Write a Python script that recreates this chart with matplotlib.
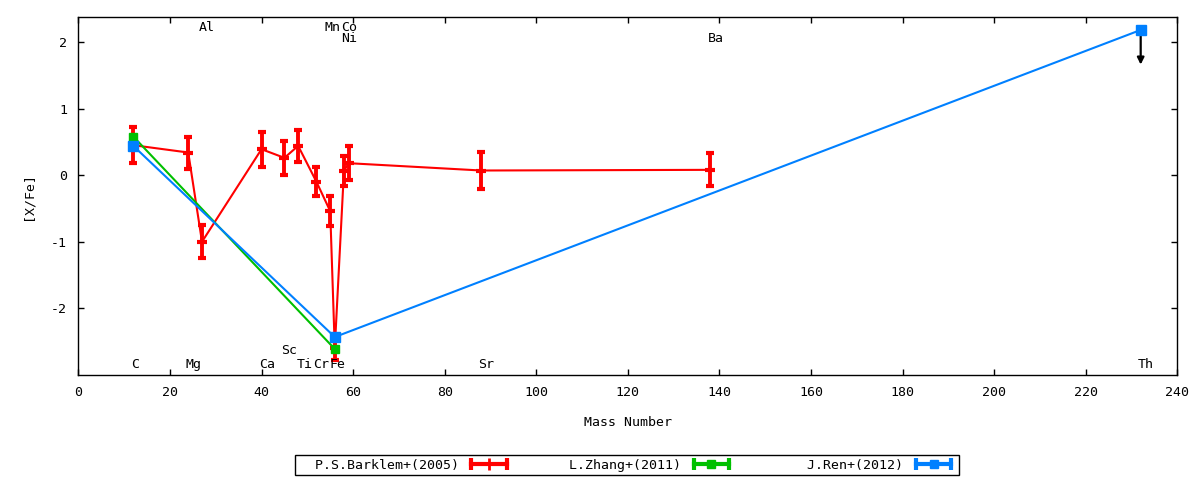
import matplotlib
matplotlib.use("Agg")
import matplotlib.pyplot as plt
from matplotlib.lines import Line2D
from matplotlib.legend_handler import HandlerTuple, HandlerLine2D

plt.rcParams['font.family'] = ['DejaVu Sans Mono', 'DejaVu Sans']
plt.rcParams['font.size'] = 9.5
plt.rcParams['axes.unicode_minus'] = False

# P.S.Barklem+(2005)
barklem_mass = [12, 24, 27, 40, 45, 48, 52, 55, 56, 58, 59, 88, 138]
barklem_xfe = [0.45, 0.34, -1.00, 0.39, 0.26, 0.44, -0.10, -0.54, -2.60, 0.06, 0.18, 0.07, 0.08]
barklem_err = [0.27, 0.24, 0.25, 0.26, 0.25, 0.24, 0.22, 0.23, 0.17, 0.23, 0.26, 0.28, 0.25]

# L.Zhang+(2011)
zhang_mass = [12, 56]
zhang_xfe = [0.58, -2.61]

# J.Ren+(2012)
ren_mass = [12, 56, 232]
ren_xfe = [0.44, -2.43, 2.18]
th_limit_end = 1.66

# element labels
elem_names = ['C', 'Mg', 'Al', 'Ca', 'Sc', 'Ti', 'Cr', 'Fe', 'Mn', 'Co', 'Ni', 'Sr', 'Ba', 'Th']
label_x = [12.3, 25.2, 28.0, 41.2, 46.1, 49.5, 53.0, 56.6, 55.5, 59.1, 59.2, 89.1, 139.3, 233.2]
label_y = [-2.9, -2.9, 2.17, -2.9, -2.69, -2.9, -2.9, -2.9, 2.17, 2.17, 2.0, -2.9, 2.0, -2.9]

red = '#ff0000'
green = '#00c000'
blue = '#0080ff'

fig = plt.figure(figsize=(12, 4.8), dpi=100)
ax = fig.add_axes([0.0653, 0.21875, 0.9158, 0.7452])

ax.errorbar(barklem_mass, barklem_xfe, yerr=barklem_err, color=red, lw=1.5,
            elinewidth=2.8, capsize=2.6, capthick=2.4,
            marker='_', ms=7, mew=3, zorder=3)
ax.plot(zhang_mass, zhang_xfe, color=green, lw=1.5, marker='s', ms=6, zorder=4)
ax.annotate('', xy=(ren_mass[-1], th_limit_end), xytext=(ren_mass[-1], ren_xfe[-1]),
            arrowprops=dict(arrowstyle='-|>', color='black', lw=1.6,
                            mutation_scale=10, shrinkA=0, shrinkB=0), zorder=4)
ax.plot(ren_mass, ren_xfe, color=blue, lw=1.5, marker='s', ms=7, zorder=5)

for name, x, y in zip(elem_names, label_x, label_y):
    ax.text(x, y, name, ha='center', va='baseline', zorder=6)

ax.set_xlim(0, 240)
ax.set_ylim(-3, 2.37)
ax.set_xticks(range(0, 241, 20))
ax.set_yticks([-2, -1, 0, 1, 2])
ax.tick_params(direction='in', top=True, right=True, length=4, width=1, pad=8)
for s in ax.spines.values():
    s.set_linewidth(1.0)

ax.set_xlabel('Mass Number', labelpad=12)
ax.set_ylabel('[X/Fe]', labelpad=12)

# legend samples: line with end caps + centre marker
handles = []
handler_map = {}
for c, mid in [(red, '|'), (green, 's'), (blue, 's')]:
    caps = Line2D([], [], color=c, lw=3, marker='|', ms=8, mew=3)
    if mid == 's':
        centre = Line2D([], [], color=c, lw=0, marker='s', ms=6)
    else:
        centre = Line2D([], [], color=c, lw=0, marker='|', ms=8, mew=2)
    handler_map[caps] = HandlerLine2D(numpoints=2)
    handler_map[centre] = HandlerLine2D(numpoints=1)
    handles.append((caps, centre))
handler_map[tuple] = HandlerTuple(ndivide=1, pad=0)

names = ['P.S.Barklem+(2005)', 'L.Zhang+(2011)', 'J.Ren+(2012)']
names = [n.rjust(20) for n in names]
leg = fig.legend(handles, names, handler_map=handler_map, loc='center',
                 bbox_to_anchor=(0.5225, 0.03125), ncol=3, markerfirst=False,
                 handlelength=3.3, handletextpad=0.66, columnspacing=0.76,
                 borderpad=0.3, fancybox=False, framealpha=1, edgecolor='black')
leg.get_frame().set_linewidth(1.0)

fig.savefig('out.png', dpi=100)
